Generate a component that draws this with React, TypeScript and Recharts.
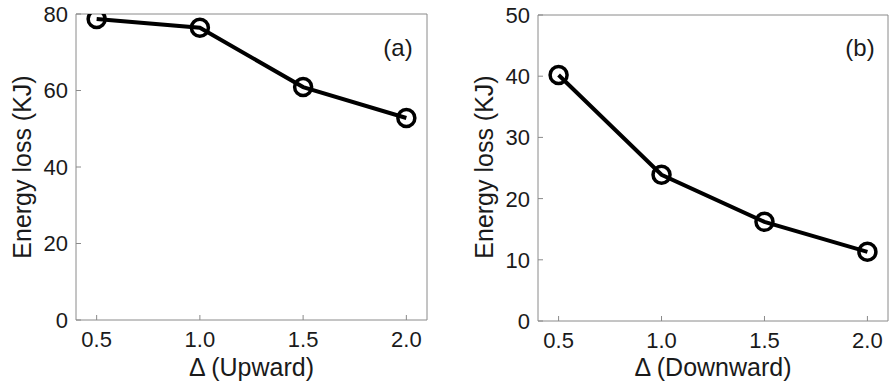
import { LineChart, Line, XAxis, YAxis, ReferenceLine } from "recharts";

const deltas = [0.5, 1.0, 1.5, 2.0];
const upwardLoss = [78.7, 76.4, 60.9, 52.8];
const downwardLoss = [40.2, 23.9, 16.2, 11.3];
const xTicks = [0.5, 1.0, 1.5, 2.0];
const upTicks = [0, 20, 40, 60, 80];
const downTicks = [0, 10, 20, 30, 40, 50];

const FONT = '"Liberation Sans", Arial, Helvetica, sans-serif';
const BOX = "#8a8a8a";
const INK = "#1a1a1a";
const GAP = 8; // tickSize + tickMargin
const X_MIN = 0.4;
const X_MAX = 2.1;

const upData = deltas.map((d, i) => ({ d, v: upwardLoss[i] }));
const downData = deltas.map((d, i) => ({ d, v: downwardLoss[i] }));

function LeftTick(props: any) {
  const { x, y, payload } = props;
  const ax = x + GAP;
  return (
    <g>
      <line x1={ax} x2={ax + 5} y1={y} y2={y} stroke={BOX} strokeWidth={1} />
      <text x={x} y={y} dy="0.36em" textAnchor="end" fontSize={22} fontFamily={FONT} fill={INK}>
        {payload.value}
      </text>
    </g>
  );
}

function RightTick(props: any) {
  const { x, y } = props;
  const ax = x - GAP;
  return <line x1={ax - 5} x2={ax} y1={y} y2={y} stroke={BOX} strokeWidth={1} />;
}

function BottomTick(props: any) {
  const { x, y, payload } = props;
  const ay = y - GAP;
  return (
    <g>
      <line x1={x} x2={x} y1={ay} y2={ay - 5} stroke={BOX} strokeWidth={1} />
      <text x={x} y={ay + 27} textAnchor="middle" fontSize={22} fontFamily={FONT} fill={INK}>
        {Number(payload.value).toFixed(1)}
      </text>
    </g>
  );
}

function TopTick(props: any) {
  const { x, y } = props;
  const ay = y + GAP;
  return <line x1={x} x2={x} y1={ay} y2={ay + 5} stroke={BOX} strokeWidth={1} />;
}

type PanelProps = {
  data: { d: number; v: number }[];
  yMax: number;
  yTicks: number[];
  width: number;
  margin: { top: number; right: number; bottom: number; left: number };
  xHeight: number;
  xTitle: string;
  tag: string;
  yTitleX: number;
  tagX: number;
};

function Panel({ data, yMax, yTicks, width, margin, xHeight, xTitle, tag, yTitleX, tagX }: PanelProps) {
  const plotLeft = margin.left + 60;
  const plotRight = width - margin.right;
  const cx = (plotLeft + plotRight) / 2;
  return (
    <div style={{ position: "relative", width, height: 387 }}>
      <LineChart width={width} height={387} data={data} margin={margin}>
        <XAxis
          xAxisId="b"
          dataKey="d"
          type="number"
          domain={[X_MIN, X_MAX]}
          ticks={xTicks}
          height={xHeight}
          stroke={BOX}
          tickLine={false}
          tick={<BottomTick />}
          allowDataOverflow
        />
        <XAxis
          xAxisId="t"
          orientation="top"
          dataKey="d"
          type="number"
          domain={[X_MIN, X_MAX]}
          ticks={xTicks}
          height={0}
          stroke={BOX}
          tickLine={false}
          tick={<TopTick />}
          allowDataOverflow
        />
        <YAxis
          yAxisId="l"
          type="number"
          domain={[0, yMax]}
          ticks={yTicks}
          width={60}
          stroke={BOX}
          tickLine={false}
          tick={<LeftTick />}
          allowDataOverflow
        />
        <YAxis
          yAxisId="r"
          orientation="right"
          type="number"
          domain={[0, yMax]}
          ticks={yTicks}
          width={0}
          stroke={BOX}
          tickLine={false}
          tick={<RightTick />}
          allowDataOverflow
        />
        <ReferenceLine xAxisId="b" yAxisId="l" y={yMax} stroke={BOX} strokeWidth={1} />
        <ReferenceLine xAxisId="b" yAxisId="l" x={X_MAX} stroke={BOX} strokeWidth={1} />
        {/* keeps the mirrored top/right axes bound to data so they draw */}
        <Line
          xAxisId="t"
          yAxisId="r"
          dataKey="v"
          stroke="none"
          dot={false}
          activeDot={false}
          legendType="none"
          isAnimationActive={false}
        />
        <Line
          xAxisId="b"
          yAxisId="l"
          dataKey="v"
          stroke="#000"
          strokeWidth={4}
          dot={{ r: 8.5, stroke: "#000", strokeWidth: 3.5, fill: "none" }}
          activeDot={false}
          isAnimationActive={false}
        />
      </LineChart>
      <svg
        width={width}
        height={387}
        style={{ position: "absolute", left: 0, top: 0, pointerEvents: "none" }}
      >
        <text
          x={yTitleX}
          y={167}
          transform={`rotate(-90 ${yTitleX} 167)`}
          textAnchor="middle"
          fontSize={25}
          fontFamily={FONT}
          fill={INK}
        >
          Energy loss (KJ)
        </text>
        <text x={cx} y={376} textAnchor="middle" fontSize={25} fontFamily={FONT} fill={INK}>
          {xTitle}
        </text>
        <text x={tagX} y={56} textAnchor="middle" fontSize={24} fontFamily={FONT} fill={INK}>
          {tag}
        </text>
      </svg>
    </div>
  );
}

export default function App() {
  return (
    <div
      style={{
        position: "absolute",
        left: 0,
        top: 0,
        width: 889,
        height: 387,
        background: "#fff",
        display: "flex",
      }}
    >
      <Panel
        data={upData}
        yMax={80}
        yTicks={upTicks}
        width={445}
        margin={{ top: 14, right: 18, bottom: 0, left: 16 }}
        xHeight={67}
        xTitle="Δ (Upward)"
        tag="(a)"
        yTitleX={31}
        tagX={398}
      />
      <Panel
        data={downData}
        yMax={50}
        yTicks={downTicks}
        width={444}
        margin={{ top: 15, right: 1, bottom: 0, left: 33 }}
        xHeight={66}
        xTitle="Δ (Downward)"
        tag="(b)"
        yTitleX={48}
        tagX={415}
      />
    </div>
  );
}
